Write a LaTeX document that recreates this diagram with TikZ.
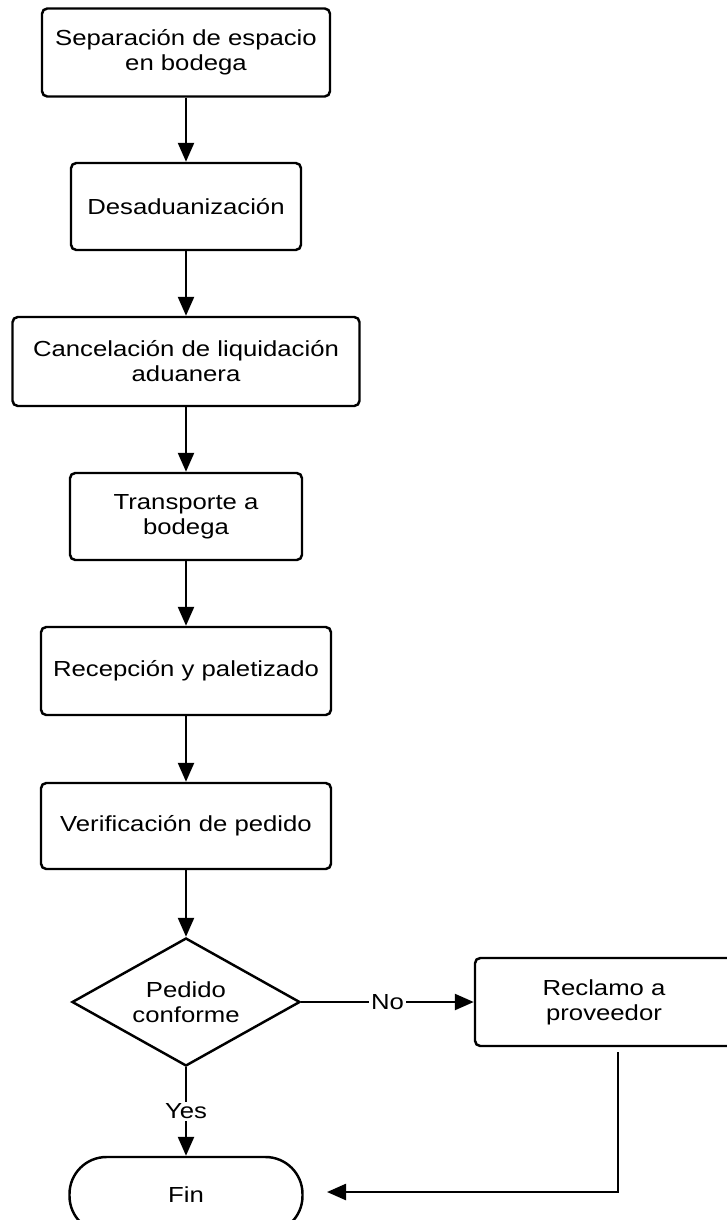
\documentclass[tikz,border=0pt]{standalone}
\usepackage{fontspec}
\setmainfont[FakeStretch=1.18]{Liberation Sans}
\usepackage{tikz}
\usetikzlibrary{arrows.meta,positioning,shapes.geometric}

\begin{document}
\begin{tikzpicture}[
  line width=1.4pt,
  every node/.style={font=\fontsize{12.4}{14.3}\selectfont, align=center},
  proc/.style={rectangle, draw, rounded corners=3pt, minimum height=1.76cm, inner sep=2pt},
  dec/.style={diamond, draw, aspect=1.78, minimum width=4.56cm, minimum height=2.56cm, inner sep=0pt},
  term/.style={rectangle, draw, rounded corners=0.74cm, minimum width=4.66cm, minimum height=1.52cm},
  arr/.style={-{Triangle[length=0.38cm, width=0.32cm]}},
  w/.style={fill=white, inner sep=1pt}
]
  \useasboundingbox (0,0) rectangle (14.52,-24.4);

  \node[proc, minimum width=5.76cm] (sep) at (3.72,-1.05) {Separación de espacio\\en bodega};
  \node[proc, minimum width=4.6cm, minimum height=1.74cm] (desa) at (3.72,-4.13) {Desaduanización};
  \node[proc, minimum width=6.94cm, minimum height=1.78cm] (canc) at (3.72,-7.23) {Cancelación de liquidación\\aduanera};
  \node[proc, minimum width=4.64cm, minimum height=1.74cm] (trans) at (3.72,-10.33) {Transporte a\\bodega};
  \node[proc, minimum width=5.8cm] (recep) at (3.72,-13.42) {Recepción y paletizado};
  \node[proc, minimum width=5.8cm, minimum height=1.72cm] (verif) at (3.72,-16.52) {Verificación de pedido};
  \node[dec] (conf) at (3.72,-20.04) {Pedido\\conforme};
  \node[proc, minimum width=5.16cm] (recl) at (12.08,-20.04) {Reclamo a\\proveedor};
  \node[term] (fin) at (3.72,-23.9) {Fin};
  \coordinate (finin) at (6.54,-23.84);

  \draw[arr] (sep) -- (desa);
  \draw[arr] (desa) -- (canc);
  \draw[arr] (canc) -- (trans);
  \draw[arr] (trans) -- (recep);
  \draw[arr] (recep) -- (verif);
  \draw[arr] (verif) -- (conf);
  \draw[arr] (conf) -- (recl) node[midway, w] {No};
  \draw[arr] (conf) -- (fin) node[midway, w] {Yes};
  \draw[arr] ([xshift=0.28cm, yshift=-0.1cm]recl.south) |- (finin);
\end{tikzpicture}
\end{document}
